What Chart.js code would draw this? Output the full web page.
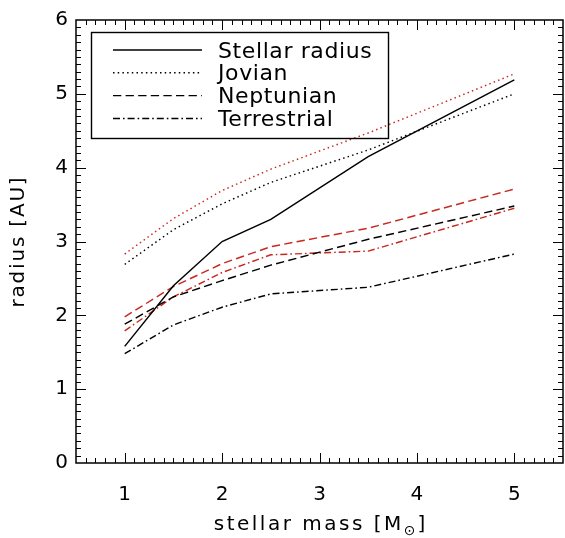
<!DOCTYPE html>
<html>
<head>
<meta charset="utf-8">
<script src="https://cdn.jsdelivr.net/npm/chart.js@4.4.1/dist/chart.umd.min.js"></script>
<style>
  html, body { margin: 0; padding: 0; background: #fff; }
</style>
</head>
<body>
<canvas id="myChart" width="565" height="538"></canvas>
<script>
// stellar mass grid [M_sun]
const masses = [1, 1.5, 2, 2.5, 3.5, 5];

// radius [AU]
const stellarRadius = [1.58, 2.40, 3.00, 3.30, 4.15, 5.19];
const jovianBlack = [2.69, 3.16, 3.51, 3.80, 4.24, 5.00];
const jovianRed = [2.83, 3.31, 3.69, 3.98, 4.47, 5.27];
const neptunianBlack = [1.88, 2.25, 2.47, 2.68, 3.03, 3.48];
const neptunianRed = [1.98, 2.39, 2.70, 2.93, 3.18, 3.71];
const terrestrialBlack = [1.48, 1.87, 2.11, 2.29, 2.38, 2.83];
const terrestrialRed = [1.79, 2.25, 2.58, 2.82, 2.87, 3.45];

const xTicks = [1, 2, 3, 4, 5];
const yTicks = [0, 1, 2, 3, 4, 5, 6];

const RED = '#c8281e';
const DOT = [1.5, 3.2];
const DASH = [8.3, 4.3];
const DASHDOT = [7, 3, 1.6, 3];
const FONT = 'DejaVu Sans';

function pts(ys) {
  return ys.map((y, i) => ({ x: masses[i], y: y }));
}

function line(label, ys, color, dash, inLegend) {
  return {
    label: label,
    data: pts(ys),
    borderColor: color,
    borderWidth: 1.45,
    borderDash: dash,
    fill: false,
    inLegend: inLegend
  };
}

// draws idl style frame, inner ticks, titles and the boxed legend
const idlFrame = {
  id: 'idlFrame',
  afterDatasetsDraw(chart) {
    const ctx = chart.ctx;
    const a = chart.chartArea;
    const xs = chart.scales.x, ys = chart.scales.y;
    ctx.save();
    ctx.strokeStyle = '#000';
    ctx.lineWidth = 1;

    // x minor/major ticks, bottom and top
    for (let i = 6; i < 55; i++) {
      const v = i / 10;
      const px = Math.round(xs.getPixelForValue(v)) + 0.5;
      const len = (i % 10 === 0) ? 10 : 5;
      ctx.beginPath();
      ctx.moveTo(px, a.bottom); ctx.lineTo(px, a.bottom - len);
      ctx.moveTo(px, a.top); ctx.lineTo(px, a.top + len);
      ctx.stroke();
    }
    // y minor/major ticks, left and right
    for (let i = 1; i < 60; i++) {
      const v = i / 10;
      const py = Math.round(ys.getPixelForValue(v)) + 0.5;
      const len = (i % 10 === 0) ? 10 : 5;
      ctx.beginPath();
      ctx.moveTo(a.left, py); ctx.lineTo(a.left + len, py);
      ctx.moveTo(a.right, py); ctx.lineTo(a.right - len, py);
      ctx.stroke();
    }

    // frame
    ctx.lineWidth = 1.5;
    ctx.strokeRect(a.left, a.top, a.right - a.left, a.bottom - a.top);

    // legend box
    ctx.lineWidth = 1.4;
    ctx.strokeRect(91.5, 32.5, 297, 106);
    let row = 0;
    chart.data.datasets.forEach(ds => {
      if (!ds.inLegend) return;
      const y = 50 + row * 22.8;
      ctx.setLineDash(ds.borderDash);
      ctx.strokeStyle = ds.borderColor;
      ctx.lineWidth = ds.borderWidth;
      ctx.beginPath();
      ctx.moveTo(113, y); ctx.lineTo(202, y);
      ctx.stroke();
      ctx.setLineDash([]);
      ctx.fillStyle = '#000';
      ctx.font = '22px "' + FONT + '"';
      ctx.letterSpacing = '0.6px';
      ctx.textAlign = 'left';
      ctx.textBaseline = 'alphabetic';
      ctx.fillText(ds.label, 218, y + 7.5);
      row++;
    });

    // y title
    ctx.fillStyle = '#000';
    ctx.font = '20px "' + FONT + '"';
    ctx.letterSpacing = '1.8px';
    ctx.save();
    ctx.translate(19, (a.top + a.bottom) / 2);
    ctx.rotate(-Math.PI / 2);
    ctx.textAlign = 'center';
    ctx.textBaseline = 'middle';
    ctx.fillText('radius [AU]', 0, 0);
    ctx.restore();

    // x title with subscript
    ctx.textAlign = 'left';
    ctx.textBaseline = 'alphabetic';
    ctx.font = '20px "' + FONT + '"';
    ctx.letterSpacing = '2.5px';
    const main = 'stellar mass [M';
    const wMain = ctx.measureText(main).width;
    ctx.font = '14px "' + FONT + '"';
    ctx.letterSpacing = '0px';
    const wSub = ctx.measureText('\u2299').width + 2;
    ctx.font = '20px "' + FONT + '"';
    const wEnd = ctx.measureText(']').width;
    let x0 = 319.5 - (wMain + wSub + wEnd) / 2;
    ctx.letterSpacing = '2.5px';
    ctx.fillText(main, x0, 530);
    ctx.font = '14px "' + FONT + '"';
    ctx.letterSpacing = '0px';
    ctx.fillText('\u2299', x0 + wMain, 535);
    ctx.font = '20px "' + FONT + '"';
    ctx.fillText(']', x0 + wMain + wSub, 530);
    ctx.restore();
  }
};

const myChart = new Chart(document.getElementById('myChart').getContext('2d'), {
  type: 'line',
  data: {
    datasets: [
      line('Stellar radius', stellarRadius, '#000', [], true),
      line('Jovian', jovianBlack, '#000', DOT, true),
      line('Neptunian', neptunianBlack, '#000', DASH, true),
      line('Terrestrial', terrestrialBlack, '#000', DASHDOT, true),
      line('Jovian (red)', jovianRed, RED, DOT, false),
      line('Neptunian (red)', neptunianRed, RED, DASH, false),
      line('Terrestrial (red)', terrestrialRed, RED, DASHDOT, false)
    ]
  },
  options: {
    responsive: false,
    animation: false,
    devicePixelRatio: 1,
    layout: { padding: { top: 9, right: 2, left: 0, bottom: 0 } },
    elements: { point: { radius: 0 }, line: { tension: 0 } },
    plugins: { legend: { display: false }, tooltip: { enabled: false } },
    scales: {
      x: {
        type: 'linear',
        min: 0.5,
        max: 5.5,
        afterBuildTicks: s => { s.ticks = xTicks.map(v => ({ value: v })); },
        afterFit: s => { s.height = 75; },
        grid: { display: false, drawTicks: false },
        border: { display: false },
        ticks: { color: '#000', font: { family: FONT, size: 20 }, padding: 20, maxRotation: 0 }
      },
      y: {
        type: 'linear',
        min: 0,
        max: 6,
        afterBuildTicks: s => { s.ticks = yTicks.map(v => ({ value: v })); },
        afterFit: s => { s.width = 76; },
        grid: { display: false, drawTicks: false },
        border: { display: false },
        ticks: { color: '#000', font: { family: FONT, size: 20 }, padding: 8 }
      }
    }
  },
  plugins: [idlFrame]
});
</script>
</body>
</html>
